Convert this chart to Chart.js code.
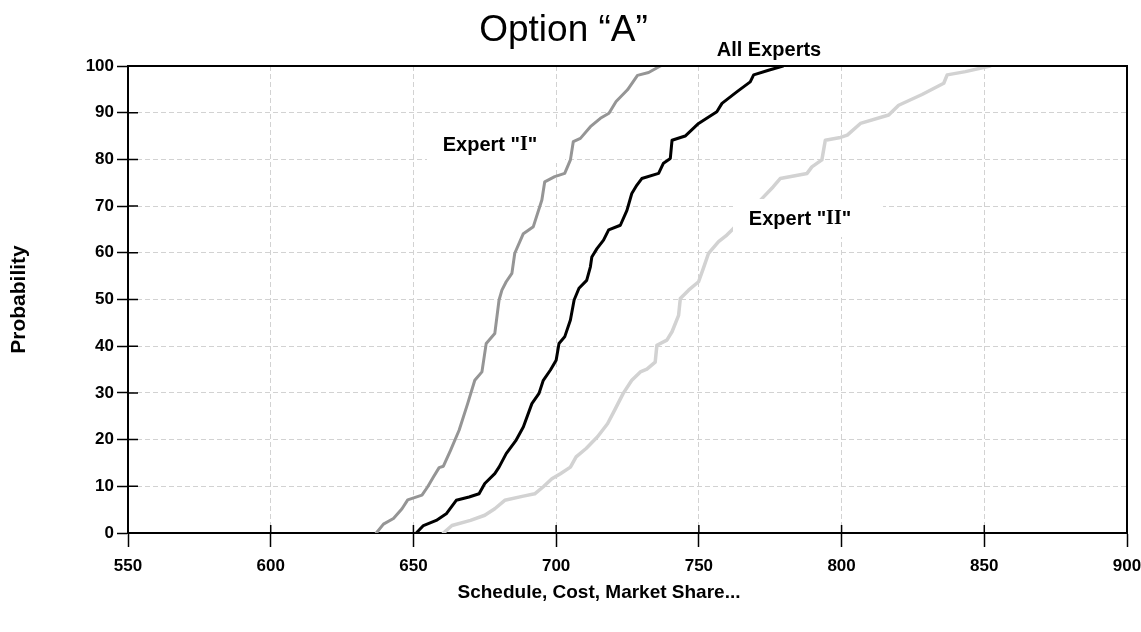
<!DOCTYPE html>
<html lang="en">

<head>
    <meta charset="UTF-8">
    <title>Option A</title>
    <script src="https://cdn.jsdelivr.net/npm/chart.js"></script>
    <style>
        body {
            margin: 0;
            background: #fff;
        }

        .chart-box {
            position: relative;
            width: 1141px;
            height: 632px;
        }
    </style>
</head>

<body>
    <div class="chart-box">
        <canvas id="optionChart"></canvas>
    </div>

    <script>
        // Values (x = schedule/cost value, y = cumulative probability %)
        const expertOneX = [637, 639.5, 643, 646, 648, 653, 655, 657, 659, 660.5, 663, 666, 669, 671.5, 674, 675.5, 678.5, 680, 681, 682.5, 684.5, 685.5, 688.5, 692, 695, 696, 699.5, 703, 705, 706, 708.5, 712, 715.5, 718.5, 721, 725, 728.5, 732.4, 736.5];
        const expertOneY = [0, 1.9, 3.1, 5.2, 7.1, 8.1, 9.9, 12, 14, 14.3, 17.7, 22, 27.7, 32.7, 34.5, 40.6, 42.7, 49.9, 52, 53.8, 55.6, 59.9, 64.1, 65.6, 71.3, 75.2, 76.3, 77, 79.9, 83.8, 84.5, 87, 88.8, 89.9, 92.4, 94.9, 98, 98.6, 100];

        const allExpertsX = [651, 653.5, 658, 661.5, 665, 669.5, 673, 675, 678.5, 680, 682.5, 686, 688.5, 691.5, 694, 695.5, 698, 700, 701, 703, 705, 706.3, 708, 710.7, 712, 712.5, 714.3, 716.6, 718.4, 722.5, 724.8, 726.5, 728.3, 730, 735.9, 737.6, 740, 740.6, 745.2, 749.9, 756.3, 758.1, 763.4, 768, 769.2, 774.4, 779.5];
        const allExpertsY = [0, 1.6, 2.7, 4.1, 7, 7.7, 8.4, 10.6, 12.7, 14.1, 17, 19.9, 22.7, 27.7, 29.9, 32.7, 34.9, 37, 40.6, 42, 45.6, 49.9, 52.4, 54.1, 57, 59.1, 60.9, 62.7, 64.9, 65.9, 69.1, 72.7, 74.5, 75.9, 77, 79.2, 80.2, 84.1, 85, 87.7, 90.2, 92, 94.5, 96.6, 98.1, 99.1, 100];

        const expertTwoX = [660.5, 663.5, 670, 675, 678.5, 682, 688.5, 692.5, 695.5, 698.5, 701.5, 705, 707, 710.5, 714.5, 718, 720.5, 723.5, 726.5, 729.5, 731.8, 734.7, 735.3, 738.8, 740.6, 742.9, 743.5, 746.4, 749.9, 751.6, 753.4, 756.9, 759.8, 761.6, 772.1, 776, 778.5, 787.9, 789.6, 793.1, 794.3, 799.6, 802, 806.6, 816.5, 820, 828.2, 835.8, 837, 843.4, 852];
        const expertTwoY = [0, 1.6, 2.7, 3.8, 5.2, 7, 7.9, 8.4, 9.9, 11.6, 12.7, 14.1, 16.3, 18.1, 20.6, 23.4, 26.3, 29.9, 32.7, 34.5, 35.1, 36.6, 40.2, 41.3, 43.1, 46.6, 50.2, 52, 53.8, 56.7, 59.9, 62.4, 63.8, 64.9, 71.6, 74.1, 75.9, 77, 78.4, 79.9, 84.1, 84.7, 85.2, 87.7, 89.5, 91.6, 93.9, 96.3, 98.1, 98.8, 100];

        const seriesNames = ['Expert "I"', 'All Experts', 'Expert "II"'];

        const FONT = 'Arial, "Liberation Sans", sans-serif';
        const SERIF = '"Times New Roman", "Liberation Serif", serif';

        function toPoints(xs, ys) {
            return xs.map((x, i) => ({ x: x, y: ys[i] }));
        }

        // frame, inner tick marks, axis titles and the boxed curve labels
        const decorPlugin = {
            id: 'decor',
            afterDatasetsDraw(chart) {
                const { ctx, chartArea: a, scales: { x, y } } = chart;
                ctx.save();

                // top + right frame
                ctx.strokeStyle = '#000';
                ctx.lineWidth = 2;
                ctx.beginPath();
                ctx.moveTo(a.left, a.top);
                ctx.lineTo(a.right, a.top);
                ctx.lineTo(a.right, a.bottom);
                ctx.stroke();

                // tick marks poking into the plot
                ctx.lineWidth = 1.5;
                ctx.beginPath();
                x.ticks.forEach(t => {
                    const px = x.getPixelForValue(t.value);
                    ctx.moveTo(px, a.bottom);
                    ctx.lineTo(px, a.bottom - 8);
                });
                y.ticks.forEach(t => {
                    const py = y.getPixelForValue(t.value);
                    ctx.moveTo(a.left, py);
                    ctx.lineTo(a.left + 10, py);
                });
                ctx.stroke();

                // curve labels on white boxes
                const boxLabel = (box, cx, cy, parts) => {
                    ctx.fillStyle = '#fff';
                    ctx.fillRect(box[0], box[1], box[2] - box[0], box[3] - box[1]);
                    let w = 0;
                    parts.forEach(p => { ctx.font = p.font; w += ctx.measureText(p.text).width; });
                    let px = cx - w / 2;
                    ctx.fillStyle = '#000';
                    ctx.textBaseline = 'middle';
                    ctx.textAlign = 'left';
                    parts.forEach(p => {
                        ctx.font = p.font;
                        ctx.fillText(p.text, px, cy);
                        px += ctx.measureText(p.text).width;
                    });
                };
                const sans = 'bold 20px ' + FONT;
                const serif = 'bold 20px ' + SERIF;
                boxLabel([427, 128, 565, 163], 490, 145, [
                    { text: 'Expert "', font: sans }, { text: 'I', font: serif }, { text: '"', font: sans }]);
                boxLabel([702, 36, 850, a.top - 1], 769, 50, [{ text: seriesNames[1], font: sans }]);
                boxLabel([733, 199, 883, 237], 800, 219, [
                    { text: 'Expert "', font: sans }, { text: 'II', font: serif }, { text: '"', font: sans }]);

                // axis titles
                ctx.textAlign = 'center';
                ctx.textBaseline = 'middle';
                ctx.font = 'bold 19px ' + FONT;
                ctx.fillText('Schedule, Cost, Market Share...', 599, 593);
                ctx.font = 'bold 21px ' + FONT;
                ctx.translate(19, (a.top + a.bottom) / 2);
                ctx.rotate(-Math.PI / 2);
                ctx.fillText('Probability', 0, 0);

                ctx.restore();
            }
        };

        Chart.defaults.font.family = FONT;
        Chart.defaults.color = '#000';

        const lineStyle = (color, width) => ({
            borderColor: color,
            borderWidth: width,
            pointRadius: 0,
            tension: 0,
            fill: false,
            borderJoinStyle: 'round',
            borderCapStyle: 'round'
        });

        new Chart(document.getElementById('optionChart'), {
            type: 'line',
            data: {
                datasets: [
                    { label: seriesNames[1], data: toPoints(allExpertsX, allExpertsY), ...lineStyle('#000000', 3) },
                    { label: seriesNames[0], data: toPoints(expertOneX, expertOneY), ...lineStyle('#959595', 3) },
                    { label: seriesNames[2], data: toPoints(expertTwoX, expertTwoY), ...lineStyle('#d2d2d2', 3.5) }
                ]
            },
            options: {
                responsive: true,
                maintainAspectRatio: false,
                animation: false,
                layout: { padding: { left: 0, right: 14, top: 0, bottom: 0 } },
                plugins: {
                    legend: { display: false },
                    tooltip: { enabled: false },
                    title: {
                        display: true,
                        text: 'Option “A”',
                        color: '#000',
                        font: { size: 37, weight: 'normal' },
                        padding: { top: 9, bottom: 12.6 }
                    }
                },
                scales: {
                    x: {
                        type: 'linear',
                        min: 550,
                        max: 900,
                        ticks: { stepSize: 50, padding: 9, font: { size: 17, weight: 'bold' } },
                        grid: { color: '#d2d2d2', lineWidth: 1, tickLength: 14, tickColor: '#000', tickWidth: 1.5 },
                        border: { color: '#000', width: 2, dash: [5, 3] },
                        afterFit: s => { s.height = 99; s.paddingLeft = 0; s.paddingRight = 0; }
                    },
                    y: {
                        min: 0,
                        max: 100,
                        ticks: { stepSize: 10, padding: 3, font: { size: 17, weight: 'bold' } },
                        grid: { color: '#d2d2d2', lineWidth: 1, tickLength: 11, tickColor: '#000', tickWidth: 1.5 },
                        border: { color: '#000', width: 2, dash: [5, 3] },
                        afterFit: s => { s.width = 128; }
                    }
                }
            },
            plugins: [decorPlugin]
        });
    </script>
</body>

</html>
